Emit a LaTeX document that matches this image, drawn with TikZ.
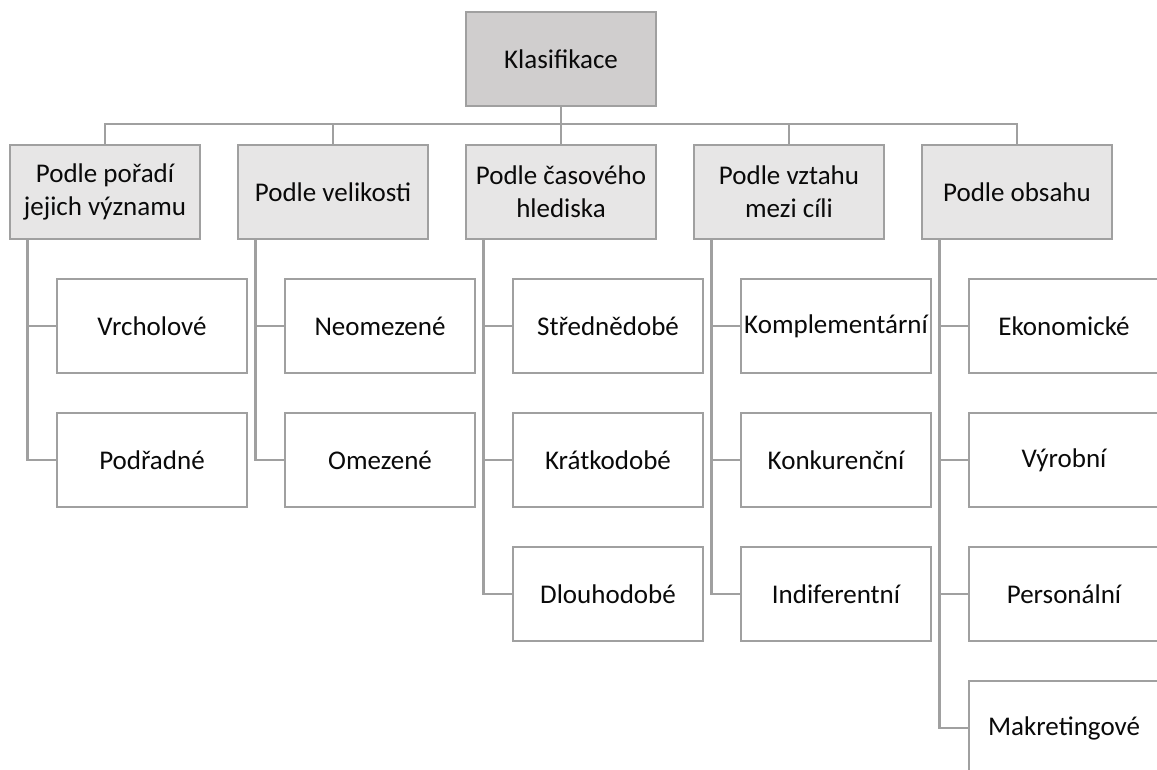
\documentclass[tikz,border=0pt]{standalone}
\usepackage{fontspec}
\setmainfont{Carlito}
\definecolor{linegray}{HTML}{A0A0A0}
\definecolor{topfill}{HTML}{D0CECE}
\definecolor{midfill}{HTML}{E7E6E6}
\definecolor{txt}{HTML}{0A0A0A}
\tikzset{
  box/.style={draw=linegray, line width=2.1pt, minimum width=142.5pt, minimum height=70.5pt,
    inner sep=0pt, align=center, text=txt, font=\fontsize{20.25}{24.5}\selectfont},
  topbox/.style={box, fill=topfill},
  catbox/.style={box, fill=midfill},
  leafbox/.style={box, fill=white},
  conn/.style={draw=linegray, line width=2.1pt}
}
\begin{document}
\begin{tikzpicture}[x=0.75pt,y=-0.75pt]
\useasboundingbox (0,0) rectangle (1157,770);
% top
\node[topbox] (k) at (561,59) {Klasifikace};
% categories
\node[catbox] (p1) at (105,192) {Podle pořadí\\jejich významu};
\node[catbox] (p2) at (333,192) {Podle velikosti};
\node[catbox] (p3) at (561,192) {Podle časového\\hlediska};
\node[catbox] (p4) at (789,192) {Podle vztahu\\mezi cíli};
\node[catbox] (p5) at (1017,192) {Podle obsahu};
% leaves
\node[leafbox] (c11) at (152,326) {Vrcholové};
\node[leafbox] (c12) at (152,460) {Podřadné};
\node[leafbox] (c21) at (380,326) {Neomezené};
\node[leafbox] (c22) at (380,460) {Omezené};
\node[leafbox] (c31) at (608,326) {Střednědobé};
\node[leafbox] (c32) at (608,460) {Krátkodobé};
\node[leafbox] (c33) at (608,594) {Dlouhodobé};
\node[leafbox] (c41) at (836,326) {Komplementární};
\node[leafbox] (c42) at (836,460) {Konkurenční};
\node[leafbox] (c43) at (836,594) {Indiferentní};
\node[leafbox] (c51) at (1064,326) {Ekonomické};
\node[leafbox] (c52) at (1064,460) {Výrobní};
\node[leafbox] (c53) at (1064,594) {Personální};
\node[leafbox] (c54) at (1064,728) {Makretingové};
% bus
\draw[conn] (k.south) -- (p3.north);
\draw[conn] (p1.north) -- ++(0,-19.5) -| (p5.north);
\draw[conn] (p2.north) -- ++(0,-19.5);
\draw[conn] (p4.north) -- ++(0,-19.5);
% trunks
\draw[conn] ([xshift=14.25pt]p1.south west) |- (c12.west);
\draw[conn] (c11.west) -- ++(-28,0);
\draw[conn] ([xshift=14.25pt]p2.south west) |- (c22.west);
\draw[conn] (c21.west) -- ++(-28,0);
\draw[conn] ([xshift=14.25pt]p3.south west) |- (c33.west);
\draw[conn] (c31.west) -- ++(-28,0);
\draw[conn] (c32.west) -- ++(-28,0);
\draw[conn] ([xshift=14.25pt]p4.south west) |- (c43.west);
\draw[conn] (c41.west) -- ++(-28,0);
\draw[conn] (c42.west) -- ++(-28,0);
\draw[conn] ([xshift=14.25pt]p5.south west) |- (c54.west);
\draw[conn] (c51.west) -- ++(-28,0);
\draw[conn] (c52.west) -- ++(-28,0);
\draw[conn] (c53.west) -- ++(-28,0);
\end{tikzpicture}
\end{document}
